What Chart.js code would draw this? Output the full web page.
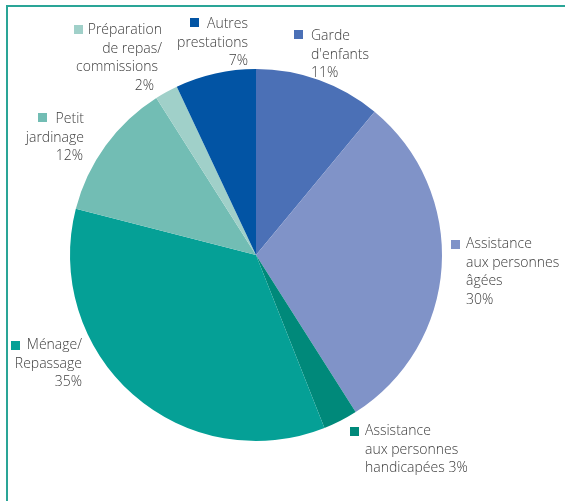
<!DOCTYPE html>
<html>
<head>
<meta charset="utf-8">
<script src="https://cdn.jsdelivr.net/npm/chart.js@4/dist/chart.umd.min.js"></script>
<style>
html,body{margin:0;padding:0;background:#fff;}
#wrap{width:565px;height:501px;position:relative;}
</style>
</head>
<body>
<div id="wrap"><canvas id="c" width="565" height="501"></canvas></div>
<script>
// Data
const categories = [
  "Garde d'enfants",
  "Assistance aux personnes âgées",
  "Assistance aux personnes handicapées",
  "Ménage/Repassage",
  "Petit jardinage",
  "Préparation de repas/commissions",
  "Autres prestations"
];
const values = [11, 30, 3, 35, 12, 2, 7];
const labelLines = [
  ["Garde", "d'enfants", "11%"],
  ["Assistance", "aux personnes", "âgées", "30%"],
  ["Assistance", "aux personnes", "handicapées 3%"],
  ["Ménage/", "Repassage", "35%"],
  ["Petit", "jardinage", "12%"],
  ["Préparation", "de repas/", "commissions", "2%"],
  ["Autres", "prestations", "7%"]
];
const colors = ["#4b70b6", "#8093c8", "#00897a", "#05a096", "#72bdb4", "#a0d0c9", "#0254a4"];

// Label layout (anchor x of text, y of first line, alignment, per-line x shift, square position)
const labelLayout = [
  {x: 311, y: 36, align: 'left',  dx: [0, 0, 0], sq: [294, 30]},
  {x: 466, y: 244, align: 'left', dx: [0, 0, 0, 0], sq: [451, 240]},
  {x: 365, y: 431, align: 'left', dx: [0, 0, 0], sq: [350, 427]},
  {x: 82,  y: 345, align: 'right', dx: [0, 0, 0], sq: [11, 341]},
  {x: 84,  y: 119, align: 'right', dx: [0, 0, -1], sq: [38, 113]},
  {x: 162, y: 30,  align: 'right', dx: [0, 0, -4, -8], sq: [74, 25]},
  {x: 248, y: 24,  align: 'right', dx: [0, 0, 0], sq: [190, 18]}
];

const framePlugin = {
  id: 'frame',
  beforeDraw(chart) {
    const ctx = chart.ctx;
    ctx.save();
    ctx.fillStyle = '#2aa597';
    ctx.fillRect(6, 5, 559, 2);
    ctx.fillRect(6, 5, 2, 496);
    ctx.restore();
  }
};

const labelPlugin = {
  id: 'labels',
  afterDraw(chart) {
    const ctx = chart.ctx;
    ctx.save();
    ctx.font = '300 14px "Open Sans", sans-serif';
    ctx.textBaseline = 'middle';
    labelLines.forEach((lines, i) => {
      const L = labelLayout[i];
      ctx.fillStyle = colors[i];
      ctx.fillRect(L.sq[0], L.sq[1], 9, 9);
      ctx.fillStyle = '#3c3c3c';
      ctx.textAlign = L.align;
      lines.forEach((t, j) => {
        ctx.fillText(t, L.x + L.dx[j], L.y + j * 18.6);
      });
    });
    ctx.restore();
  }
};

new Chart(document.getElementById('c'), {
  type: 'pie',
  data: {
    labels: categories,
    datasets: [{
      data: values,
      backgroundColor: colors,
      borderWidth: 0,
      hoverOffset: 0
    }]
  },
  options: {
    responsive: false,
    animation: false,
    layout: {padding: {top: 69, bottom: 60, left: 70, right: 123}},
    plugins: {legend: {display: false}, tooltip: {enabled: false}}
  },
  plugins: [framePlugin, labelPlugin]
});
</script>
</body>
</html>
